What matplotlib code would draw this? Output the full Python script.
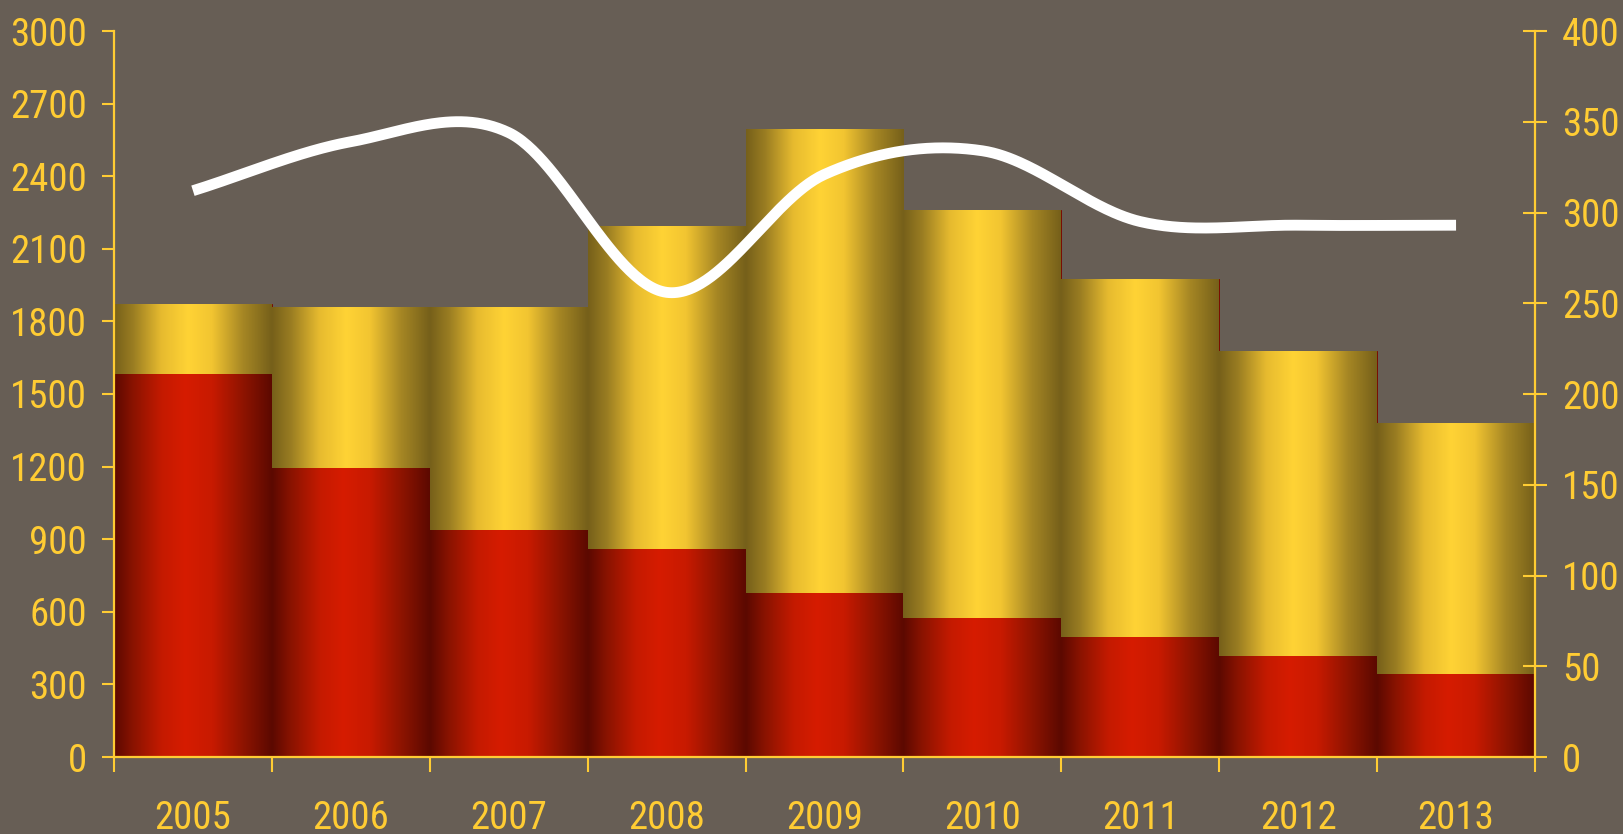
import numpy as np
import matplotlib
matplotlib.use("Agg")
import matplotlib.pyplot as plt
from matplotlib.colors import LinearSegmentedColormap
from matplotlib.ticker import FixedLocator, NullFormatter

# ---- data -------------------------------------------------------------
years = ["2005", "2006", "2007", "2008", "2009", "2010", "2011", "2012", "2013"]
lower_values = [1583, 1194, 938, 860, 678, 574, 496, 417, 343]
upper_values = [288, 666, 922, 1334, 1917, 1688, 1479, 1261, 1037]
line_values = [312, 339, 344, 256, 321, 334, 295, 293, 293]

left_ticks = list(range(0, 3001, 300))
right_ticks = list(range(0, 401, 50))

# ---- style ------------------------------------------------------------
BG = "#675E55"
GOLD = "#FFCC33"
EDGE = "#7A0C00"
plt.rcParams["font.family"] = ["Roboto Condensed", "Archivo Narrow", "Liberation Sans", "DejaVu Sans"]

red_cmap = LinearSegmentedColormap.from_list(
    "red_cyl",
    [(0.0, "#5C0900"), (0.12, "#8A1300"), (0.3, "#C41A00"), (0.45, "#D61C00"),
     (0.62, "#C81A00"), (0.82, "#8E1400"), (1.0, "#5C0900")])
gold_cmap = LinearSegmentedColormap.from_list(
    "gold_cyl",
    [(0.0, "#76601A"), (0.12, "#9A7D22"), (0.3, "#E7BB2F"), (0.47, "#FFD335"),
     (0.62, "#F2C531"), (0.82, "#A58624"), (1.0, "#76601A")])

W, H, DPI = 1624, 834, 100
fig = plt.figure(figsize=(W / DPI, H / DPI), dpi=DPI, facecolor=BG)
ax = fig.add_axes([114 / W, (H - 757) / H, 1421 / W, 726 / H])
ax.set_facecolor(BG)

x = np.arange(len(years))
grad = np.linspace(0, 1, 256).reshape(1, -1)


def gradient_bars(bars, cmap):
    for rect in bars:
        x0, y0 = rect.get_x(), rect.get_y()
        w, h = rect.get_width(), rect.get_height()
        im = ax.imshow(grad, cmap=cmap, aspect="auto", interpolation="bicubic",
                       extent=(x0, x0 + w, y0, y0 + h), zorder=2)
        im.set_clip_path(rect)


# thin dark outline peeking out around the stacked columns
ax.bar(x, np.add(lower_values, upper_values), width=1.0, color="none",
       edgecolor=EDGE, linewidth=0.7, zorder=1.5)
red_bars = ax.bar(x, lower_values, width=1.0, color="none", linewidth=0, zorder=1)
gold_bars = ax.bar(x, upper_values, bottom=lower_values, width=1.0, color="none",
                   linewidth=0, zorder=1)
gradient_bars(red_bars, red_cmap)
gradient_bars(gold_bars, gold_cmap)

ax.set_xlim(-0.5, len(years) - 0.5)
ax.set_ylim(0, 3000)

# x axis: boundary ticks, labels centred under each bar
ax.xaxis.set_major_locator(FixedLocator(np.arange(len(years) + 1) - 0.5))
ax.xaxis.set_major_formatter(NullFormatter())
ax.xaxis.set_minor_locator(FixedLocator(x))
ax.set_xticklabels(years, minor=True)
ax.tick_params(axis="x", which="major", length=10.5, width=1.5, color=GOLD, direction="out")
ax.tick_params(axis="x", which="minor", length=0, pad=31, labelsize=28, labelcolor=GOLD)

ax.set_yticks(left_ticks)
ax.tick_params(axis="y", length=8.6, width=1.5, color=GOLD, direction="out",
               pad=11, labelsize=28, labelcolor=GOLD)

for side in ("top", "right"):
    ax.spines[side].set_visible(False)
for side in ("left", "bottom"):
    ax.spines[side].set_color(GOLD)
    ax.spines[side].set_linewidth(1.6)
    ax.spines[side].set_zorder(3)

# right axis with the line series
ax2 = ax.twinx()
ax2.set_ylim(0, 400)
ax2.set_yticks(right_ticks)
ax2.tick_params(axis="y", length=17, width=1.5, color=GOLD, direction="inout",
                pad=11, labelsize=28, labelcolor=GOLD)
for side in ("top", "left", "bottom"):
    ax2.spines[side].set_visible(False)
ax2.spines["right"].set_color(GOLD)
ax2.spines["right"].set_linewidth(1.6)


def smooth_curve(xs, ys, n=60):
    """Catmull-Rom style smoothed line through the points."""
    xs = np.asarray(xs, float)
    ys = np.asarray(ys, float)
    h = np.diff(xs)
    m = np.zeros_like(ys)
    m[1:-1] = (ys[2:] - ys[:-2]) / (xs[2:] - xs[:-2])
    m[0] = (ys[1] - ys[0]) / h[0]
    m[-1] = 0.0
    px, py = [], []
    for i in range(len(xs) - 1):
        t = np.linspace(0, 1, n, endpoint=(i == len(xs) - 2))
        h00 = 2 * t**3 - 3 * t**2 + 1
        h10 = t**3 - 2 * t**2 + t
        h01 = -2 * t**3 + 3 * t**2
        h11 = t**3 - t**2
        px.append(xs[i] + t * h[i])
        py.append(h00 * ys[i] + h10 * h[i] * m[i] + h01 * ys[i + 1] + h11 * h[i] * m[i + 1])
    return np.concatenate(px), np.concatenate(py)


cx, cy = smooth_curve(x, line_values)
ax2.plot(cx, cy, color="white", linewidth=7.8, solid_capstyle="butt",
         solid_joinstyle="round", zorder=5)

fig.savefig("out.png", dpi=DPI, facecolor=BG)
